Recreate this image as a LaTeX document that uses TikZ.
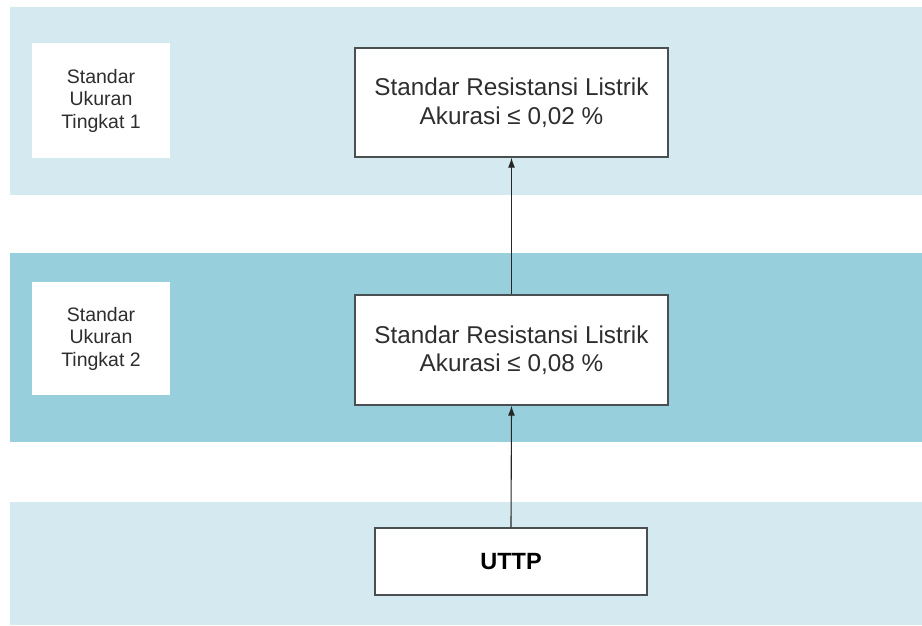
\documentclass[tikz,border=0pt]{standalone}
\usepackage{fontspec}
\setmainfont{Liberation Sans}
\usetikzlibrary{arrows.meta}
\definecolor{bandlight}{HTML}{D4EAF0}
\definecolor{banddark}{HTML}{97D0DC}
\definecolor{boxline}{HTML}{4A4F52}
\definecolor{txt}{HTML}{2E2E2E}
\tikzset{
  band/.style={fill=#1, draw=none},
  levelbox/.style={fill=white, draw=none, minimum width=138pt, minimum height=115pt,
    align=center, font=\fontsize{19.5}{22.5}\selectfont, text=txt, inner sep=0pt},
  stdbox/.style={fill=white, draw=boxline, line width=1.4pt, minimum width=313pt,
    minimum height=109pt, align=center, font=\fontsize{24.3}{28.5}\selectfont, text=txt, inner sep=0pt},
  uttpbox/.style={fill=white, draw=boxline, line width=1.4pt, minimum width=272pt,
    minimum height=67pt, align=center, font=\fontsize{23.5}{28}\selectfont\bfseries, text=black, inner sep=0pt},
  link/.style={draw=black!85, line width=1.1pt, -{Latex[length=10pt,width=7pt]}}
}
\begin{document}
\begin{tikzpicture}[x=1pt,y=-1pt]
  \useasboundingbox (0,0) rectangle (922,625);
  % horizontal bands
  \fill[band=bandlight] (10,7) rectangle (922,195);
  \fill[band=banddark] (10,253) rectangle (922,442);
  \fill[band=bandlight] (10,502) rectangle (922,625);

  % level labels
  \node[levelbox] (lvl1) at (101,100.5) {Standar\\Ukuran\\Tingkat 1};
  \node[levelbox, minimum height=113pt] (lvl2) at (101,338.5) {Standar\\Ukuran\\Tingkat 2};

  % standards
  \node[stdbox] (std1) at (511.5,102.5) {Standar Resistansi Listrik\\Akurasi ≤ 0,02 \%};
  \node[stdbox, minimum height=110pt] (std2) at (511.5,350) {Standar Resistansi Listrik\\Akurasi ≤ 0,08 \%};
  \node[uttpbox] (uttp) at (511,561.5) {UTTP};

  % traceability chain
  \draw[link] (uttp.north) -- (std2.south);
  \draw[link] (std2.north) -- (std1.south);
\end{tikzpicture}
\end{document}
